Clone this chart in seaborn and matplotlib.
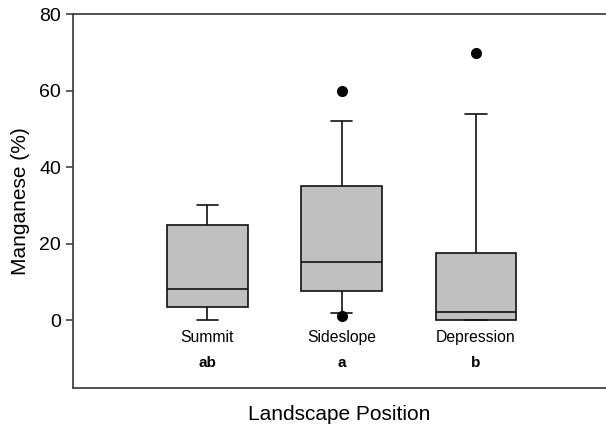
import numpy as np
import pandas as pd
import matplotlib
matplotlib.use("Agg")
import matplotlib.pyplot as plt
import seaborn as sns

# Manganese (%) per landscape position
positions = ["Summit", "Sideslope", "Depression"]
letters = ["ab", "a", "b"]
summit = [0, 0, 3, 4, 6, 8, 15, 24, 26, 30, 30]
sideslope = [1, 1.9, 6, 9.2, 12, 15.2, 22, 33, 37.4, 52, 60]
depression = [0, 0, 0, 0, 1, 2, 8, 15, 20.2, 54, 70]

df = pd.DataFrame({
    "position": np.repeat(positions, [len(summit), len(sideslope), len(depression)]),
    "mn": summit + sideslope + depression,
})

sns.set_style("white")
plt.rcParams["font.family"] = ["Liberation Sans", "DejaVu Sans"]
plt.rcParams["text.color"] = "black"
plt.rcParams["axes.labelcolor"] = "black"
plt.rcParams["ytick.color"] = "black"

fig = plt.figure(figsize=(6.06, 4.25), dpi=100)
ax = fig.add_axes([0.1205, 0.087, 0.8795, 0.879])

# whiskers at 10th / 90th percentiles, points beyond drawn as dots
sns.boxplot(data=df, x="position", y="mn", order=positions, ax=ax,
            whis=(10, 90), width=0.6, color="#c0c0c0", saturation=1,
            linecolor="#111111", linewidth=1.2, fliersize=7,
            flierprops=dict(marker="o", markerfacecolor="black",
                            markeredgecolor="black"),
            capwidths=0.16)

ax.set_xlim(-1.0, 2.97)
ax.set_ylim(-17.8, 80)
ax.set_yticks([0, 20, 40, 60, 80])
ax.set_xticks([])
ax.tick_params(axis="y", direction="out", length=5, width=1.1,
               labelsize=14, color="#333333", left=True)

for side in ["left", "top", "bottom"]:
    ax.spines[side].set_color("#444444")
    ax.spines[side].set_linewidth(1.3)
ax.spines["right"].set_visible(False)

# category names and significance letters sit inside the axes
for i, (name, let) in enumerate(zip(positions, letters)):
    ax.text(i, -4.7, name, ha="center", va="center", fontsize=11.3)
    ax.text(i, -11.2, let, ha="center", va="center", fontsize=11,
            fontweight="bold")

ax.set_ylabel("Manganese (%)", fontsize=15, labelpad=7)
ax.set_xlabel("Landscape Position", fontsize=15, labelpad=12)

fig.savefig("out.png", dpi=100)
